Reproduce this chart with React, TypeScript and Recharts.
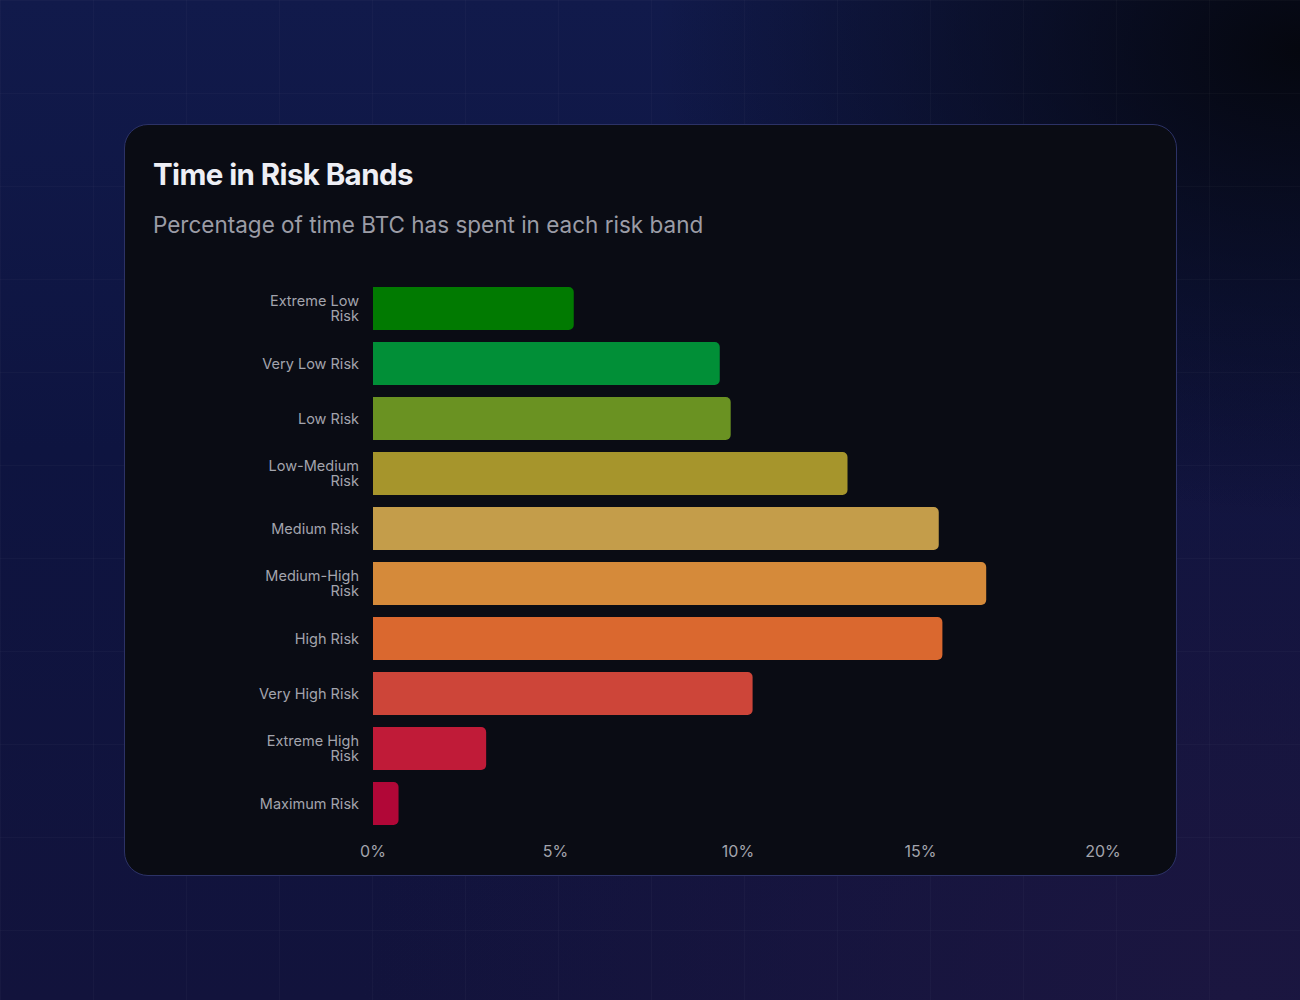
import { BarChart, Bar, XAxis, YAxis, Cell } from "recharts"

const bands = [
  "Extreme Low Risk",
  "Very Low Risk",
  "Low Risk",
  "Low-Medium Risk",
  "Medium Risk",
  "Medium-High Risk",
  "High Risk",
  "Very High Risk",
  "Extreme High Risk",
  "Maximum Risk",
]

const timeShare = [5.5, 9.5, 9.8, 13.0, 15.5, 16.8, 15.6, 10.4, 3.1, 0.7]

const bandColors = [
  "#017a01",
  "#018f37",
  "#6a9222",
  "#a6952c",
  "#c49d4a",
  "#d58a3a",
  "#da682f",
  "#cd4539",
  "#c01b38",
  "#b10737",
]

const xTicks = [0, 5, 10, 15, 20]

const data = bands.map((band, i) => ({ band, value: timeShare[i] }))

const FONT = "Inter, 'Noto Sans', sans-serif"
const TICK_SIZE = 14.5

// greedy word wrap, measured with a canvas so it follows the real font
let ctx: CanvasRenderingContext2D | null = null
function wrap(label: string, maxWidth: number) {
  if (!ctx) ctx = document.createElement("canvas").getContext("2d")
  if (ctx) ctx.font = `${TICK_SIZE}px ${FONT}`
  const measure = (s: string) => (ctx ? ctx.measureText(s).width : s.length * 7.5)
  const lines: string[] = []
  let cur = ""
  for (const w of label.split(" ")) {
    const next = cur ? `${cur} ${w}` : w
    if (cur && measure(next) > maxWidth) {
      lines.push(cur)
      cur = w
    } else {
      cur = next
    }
  }
  if (cur) lines.push(cur)
  return lines
}

function BandTick(props: any) {
  const { x, y, payload } = props
  const lines = wrap(payload.value, 112)
  const lh = 15
  const first = -((lines.length - 1) / 2) * lh + 5
  return (
    <text
      x={x}
      y={y}
      textAnchor="end"
      fontSize={TICK_SIZE}
      fill="#a3a4ad"
      fontFamily={FONT}
    >
      {lines.map((l, i) => (
        <tspan key={i} x={x} dy={i === 0 ? first : lh}>
          {l}
        </tspan>
      ))}
    </text>
  )
}

export default function App() {
  return (
    <div
      style={{
        position: "absolute",
        left: 0,
        top: 0,
        width: 1300,
        height: 1000,
        overflow: "hidden",
        fontFamily: FONT,
        background:
          "radial-gradient(ellipse at 100% 5%, #05070f 0%, rgba(5,7,15,0) 35%), radial-gradient(ellipse at 95% 100%, #1b1640 0%, rgba(27,22,64,0) 50%), linear-gradient(180deg, #111a4b 0%, #0e1440 45%, #12133c 100%)",
      }}
    >
      <div
        style={{
          position: "absolute",
          inset: 0,
          backgroundImage:
            "linear-gradient(rgba(255,255,255,0.025) 1px, transparent 1px), linear-gradient(90deg, rgba(255,255,255,0.025) 1px, transparent 1px)",
          backgroundSize: "93px 93px",
        }}
      />
      <div
        style={{
          position: "absolute",
          left: 124,
          top: 124,
          width: 1051,
          height: 750,
          borderRadius: 24,
          border: "1px solid #2c3266",
          background: "#0a0c14",
        }}
      >
        <div
          style={{
            position: "absolute",
            left: 28,
            top: 31,
            fontSize: 29.5,
            fontWeight: 700,
            letterSpacing: -0.6,
            color: "#eeeff5",
          }}
        >
          Time in Risk Bands
        </div>
        <div
          style={{
            position: "absolute",
            left: 28,
            top: 86,
            fontSize: 22.5,
            color: "#9b9ca6",
          }}
        >
          Percentage of time BTC has spent in each risk band
        </div>
        <div style={{ position: "absolute", left: 28, top: 146 }}>
          <BarChart
            width={970}
            height={600}
            data={data}
            layout="vertical"
            margin={{ top: 10, right: 20, bottom: 10, left: 0 }}
            barCategoryGap="11%"
          >
            <XAxis
              type="number"
              domain={[0, 20]}
              ticks={xTicks}
              tickFormatter={(v: number) => `${v}%`}
              axisLine={false}
              tickLine={false}
              tickSize={0}
              tickMargin={15}
              height={30}
              tick={{ fill: "#a3a4ad", fontSize: 16, fontFamily: FONT }}
            />
            <YAxis
              type="category"
              dataKey="band"
              width={220}
              axisLine={false}
              tickLine={false}
              tickSize={0}
              tickMargin={14}
              interval={0}
              tick={<BandTick />}
            />
            <Bar dataKey="value" radius={[0, 5, 5, 0]} isAnimationActive={false}>
              {data.map((d, i) => (
                <Cell key={d.band} fill={bandColors[i]} />
              ))}
            </Bar>
          </BarChart>
        </div>
      </div>
    </div>
  )
}
